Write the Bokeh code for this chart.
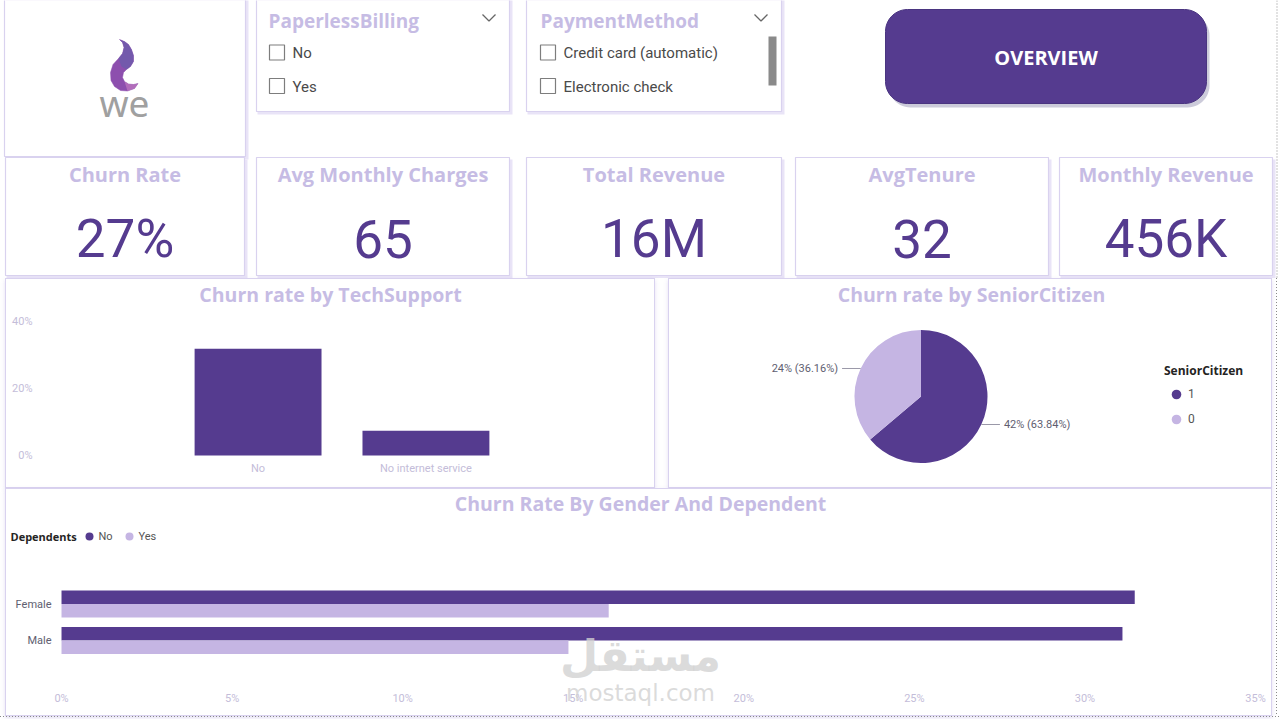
import numpy as np
from bokeh.plotting import figure
from bokeh.models import (Range1d, FactorRange, FixedTicker, NumeralTickFormatter,
                          Label, Legend, LegendItem, Spacer)
from bokeh.layouts import column, row
from bokeh.embed import file_html
from bokeh.resources import INLINE
from bokeh.core.properties import value

# ---------------- data ----------------
slicer_titles = ["PaperlessBilling", "PaymentMethod"]
paperless_options = ["No", "Yes"]
payment_options = ["Credit card (automatic)", "Electronic check"]
kpi_titles = ["Churn Rate", "Avg Monthly Charges", "Total Revenue", "AvgTenure", "Monthly Revenue"]
kpi_values = ["27%", "65", "16M", "32", "456K"]

tech_support = ["No", "No internet service"]
tech_churn = [0.319, 0.074]
tech_ticks = [0.0, 0.2, 0.4]

senior_groups = ["1", "0"]
senior_churn = [0.4168, 0.2361]

genders = ["Female", "Male"]
dependents = ["No", "Yes"]
churn_dep_no = [0.3146, 0.3110]
churn_dep_yes = [0.1604, 0.1486]
gender_ticks = [0.0, 0.05, 0.10, 0.15, 0.20, 0.25, 0.30, 0.35]

# ---------------- style ----------------
DARK = "#553b8f"
LIGHT = "#c5b5e3"
TITLE_C = "#c6bce4"
BORDER_C = "#d9d2ef"
TICK_C = "#c4bdd9"
TXT_C = "#605e70"
BOLD_FONT = "Open Sans"
NUM_FONT = "Roboto"
PANEL_STYLE = {"background-color": "#ffffff",
               "box-shadow": "inset 0 0 0 1px #d9d2ef, 0 2px 4px rgba(150,130,210,0.25)"}
VDOTS = {"background-image": "linear-gradient(#8a8a8a 50%, rgba(0,0,0,0) 50%)",
         "background-size": "1px 3px", "background-repeat": "repeat-y",
         "background-position": "4px 0"}
HDOTS = {"background-image": "linear-gradient(to right, #8a8a8a 50%, rgba(0,0,0,0) 50%)",
         "background-size": "3px 1px", "background-repeat": "repeat-x",
         "background-position": "0 0"}


def rounded_rect(x0, y0, x1, y1, r, n=14):
    xs, ys = [], []
    corners = [(x1 - r, y0 + r, -90, 0), (x1 - r, y1 - r, 0, 90),
               (x0 + r, y1 - r, 90, 180), (x0 + r, y0 + r, 180, 270)]
    for cx, cy, a0, a1 in corners:
        for a in np.linspace(np.radians(a0), np.radians(a1), n):
            xs.append(cx + r * np.cos(a))
            ys.append(cy + r * np.sin(a))
    return xs, ys


# ================= top section (pixel canvas) =================
top = figure(width=1280, height=278, x_range=Range1d(0, 1280), y_range=Range1d(278, 0),
             x_axis_type=None, y_axis_type=None, min_border=0, toolbar_location=None,
             title=None, output_backend="svg", outline_line_color=None,
             background_fill_color="white", border_fill_color="white")
top.grid.visible = False

panels = [(4, 245, -5, 156), (256, 509, -5, 111), (526, 781, -5, 111),
          (5, 244, 157, 275), (256, 509, 157, 275), (526, 781, 157, 275),
          (795, 1048, 157, 275), (1059, 1272, 157, 275)]
pl, pr, pt, pb = zip(*panels)
top.quad(left=[v + 1 for v in pl], right=[v + 3 for v in pr], top=[v + 2 for v in pt],
         bottom=[v + 3 for v in pb], fill_color="#e9e4f7", line_color=None)
top.quad(left=list(pl), right=list(pr), top=list(pt), bottom=list(pb),
         fill_color="white", line_color=BORDER_C, line_width=1.2)

# logo: swirl + "we"
swirl_x = [119, 124, 128, 131, 133, 133, 130, 126, 123, 122, 124, 128, 133, 137.5,
           134, 127, 120, 114, 110.5, 110, 112.5, 118, 122, 123.5, 122]
swirl_y = [39, 41, 44, 49, 55, 61, 66, 69, 72, 77, 81, 83.5, 84, 83,
           88, 90.5, 90, 86, 80, 72, 64, 58, 53, 47, 42]
top.patch(x=swirl_x, y=swirl_y, fill_color="#8d4fae", line_color="#8d4fae", line_width=0.5)
top.patch(x=[119, 124, 128, 131, 133, 133, 130, 126, 121, 118, 122, 123.5, 122],
          y=[39, 41, 44, 49, 55, 61, 66, 69, 66, 58, 53, 47, 42],
          fill_color="#6f5aab", fill_alpha=0.85, line_color=None)
top.patch(x=[124, 128, 133, 137.5, 134, 127], y=[81, 83.5, 84, 83, 88, 90.5],
          fill_color="#c27bc0", fill_alpha=0.7, line_color=None)
top.text(x=[124], y=[102], text=["we"], text_font=value("Noto Sans"),
         text_font_size="37px", text_color="#a0a0a0", text_align="center",
         text_baseline="middle")

# slicers
top.text(x=[268, 540], y=[20, 20], text=slicer_titles, text_font=value(BOLD_FONT),
         text_font_style="bold", text_font_size="19px", text_color=TITLE_C,
         text_align="left", text_baseline="middle")
top.multi_line(xs=[[482, 488.5, 495], [754, 760.5, 767]], ys=[[14, 20.5, 14], [14, 20.5, 14]],
               line_color="#666666", line_width=1.3)
top.rect(x=[276.5, 276.5, 547.5, 547.5], y=[52, 85.5, 52, 85.5], width=15, height=15,
         fill_color="white", line_color="#7d7d7d", line_width=1.2)
top.text(x=[292, 292, 563, 563], y=[52, 86, 52, 86],
         text=paperless_options + payment_options, text_font=value(NUM_FONT),
         text_font_size="15px", text_color="#4a4a4a", text_align="left",
         text_baseline="middle")
top.quad(left=[768], right=[776], top=[36], bottom=[85], fill_color="#8a8a8a", line_color=None)

# overview button
bx, by = rounded_rect(885, 9, 1206, 103, 22)
top.patch(x=[v + 3 for v in bx], y=[v + 4 for v in by], fill_color="#9a98b5",
          fill_alpha=0.5, line_color=None)
top.patch(x=bx, y=by, fill_color=DARK, line_color="#4a3580", line_width=1)
top.text(x=[1045.5], y=[57], text=["OVERVIEW"], text_font=value(BOLD_FONT),
         text_font_style="bold", text_font_size="20px", text_color="white",
         text_align="center", text_baseline="middle")

# KPI cards
kpi_cx = [(l + r) / 2 for (l, r, t, b) in panels[3:]]
top.text(x=kpi_cx, y=[174] * 5, text=kpi_titles, text_font=value(BOLD_FONT),
         text_font_style="bold", text_font_size="20px", text_color=TITLE_C,
         text_align="center", text_baseline="middle")
top.text(x=kpi_cx, y=[238] * 5, text=kpi_values, text_font=value(NUM_FONT),
         text_font_size="53px", text_color=DARK, text_align="center",
         text_baseline="middle")
top.line(x=[1276.5, 1276.5], y=[0, 278], line_color="#8a8a8a", line_dash="1 2", line_width=1)

# ================= TechSupport bar chart =================
# frame: abs y 280..464, abs x 41..642
bar = figure(width=650, height=210, title=None,
             x_range=FactorRange(factors=tech_support, range_padding=0.79,
                                 range_padding_units="absolute"),
             y_range=Range1d(-0.0269, 0.5224), min_border_left=36, min_border_right=13,
             min_border_top=2, min_border_bottom=24, toolbar_location=None,
             output_backend="svg", outline_line_color=None,
             background_fill_alpha=0, border_fill_alpha=0, styles=PANEL_STYLE)
bar.vbar(x=tech_support, top=tech_churn, bottom=0, width=0.756, fill_color=DARK,
         line_color=None)
bar.grid.visible = False
bar.yaxis.ticker = FixedTicker(ticks=tech_ticks)
bar.yaxis.formatter = NumeralTickFormatter(format="0%")
for ax in (bar.xaxis[0], bar.yaxis[0]):
    ax.axis_line_color = None
    ax.major_tick_line_color = None
    ax.minor_tick_line_color = None
    ax.major_tick_out = 0
    ax.major_tick_in = 0
    ax.major_label_text_color = TICK_C
    ax.major_label_text_font = NUM_FONT
    ax.major_label_text_font_size = "11px"
bar.yaxis.major_label_standoff = 9
bar.xaxis.major_label_standoff = -3
bar.add_layout(Label(x=289, y=170, x_units="screen", y_units="screen",
                     text="Churn rate by TechSupport", text_align="center",
                     text_baseline="middle", text_font=BOLD_FONT, text_font_style="bold",
                     text_font_size="19.5px", text_color=TITLE_C))

# ================= SeniorCitizen pie =================
# frame: abs y 280..464, abs x 668..1272 ; pie centre abs (920.5, 396)
R_PX = 66.5
pie = figure(width=604, height=210, title=None,
             x_range=Range1d(-252.5 / R_PX, 351.5 / R_PX),
             y_range=Range1d(-68 / R_PX, 116 / R_PX), x_axis_type=None, y_axis_type=None,
             min_border_left=0, min_border_right=0, min_border_top=2, min_border_bottom=24,
             toolbar_location=None, output_backend="svg",
             outline_line_color=None, background_fill_alpha=0, border_fill_alpha=0,
             styles=PANEL_STYLE)
pie.grid.visible = False
shares = np.array(senior_churn) / np.sum(senior_churn)
cum = np.concatenate([[0.0], np.cumsum(shares)])
starts = np.pi / 2 - 2 * np.pi * cum[:-1]
ends = np.pi / 2 - 2 * np.pi * cum[1:]
mids = (starts + ends) / 2
pie_colors = [DARK, LIGHT]
pie.wedge(x=0, y=0, radius=1, start_angle=starts, end_angle=ends, direction="clock",
          fill_color=pie_colors, line_color=None)
ex, ey = np.cos(mids), np.sin(mids)
side = np.sign(ex)
pie.segment(x0=ex, y0=ey, x1=ex + side * 0.28, y1=ey, line_color="#9a98a8", line_width=1)
pie_labels = [f"{v * 100:.0f}% ({s * 100:.2f}%)" for v, s in zip(senior_churn, shares)]
pie.text(x=ex + side * 0.34, y=ey, text=pie_labels,
         text_align=["left" if s > 0 else "right" for s in side],
         text_baseline="middle", text_font=value(NUM_FONT), text_font_size="11px",
         text_color=TXT_C)
pie.add_layout(Label(x=303, y=170, x_units="screen", y_units="screen",
                     text="Churn rate by SeniorCitizen", text_align="center",
                     text_baseline="middle", text_font=BOLD_FONT, text_font_style="bold",
                     text_font_size="19.5px", text_color=TITLE_C))
# legend-only renderers (no visible points: NaN coordinates)
leg_r = [pie.scatter(x=[np.nan], y=[np.nan], marker="circle", fill_color=c, line_color=None)
         for c in pie_colors]
pie_legend = Legend(items=[LegendItem(label=g, renderers=[r]) for g, r in zip(senior_groups, leg_r)],
                    location=(496, 33), title="SeniorCitizen", title_text_font=BOLD_FONT,
                    title_text_font_style="bold", title_text_font_size="12px",
                    title_text_color="#252423", title_standoff=3, padding=0, margin=0,
                    spacing=1, glyph_width=24, glyph_height=24, label_standoff=0,
                    label_height=20, label_text_font=NUM_FONT, label_text_font_size="12px",
                    label_text_color="#555555", border_line_color=None,
                    background_fill_alpha=0)
pie.add_layout(pie_legend)

# ================= Gender / Dependents hbar =================
# frame: abs x 8..1255, abs y 490..706 ; 0% at abs x 61
ypos = np.arange(len(genders))[::-1].astype(float)
bot = figure(width=1267, height=228, title=None, x_range=Range1d(-0.01554, 0.35),
             y_range=Range1d(-1.808, 4.110), y_axis_type=None,
             min_border_left=3, min_border_right=17, min_border_top=2, min_border_bottom=10,
             toolbar_location=None, output_backend="svg", outline_line_color=None,
             background_fill_alpha=0, border_fill_alpha=0, styles=PANEL_STYLE)
bot.grid.visible = False
r_no = bot.hbar(y=ypos + 0.185, left=0, right=churn_dep_no, height=0.37,
                fill_color=DARK, line_color=None)
r_yes = bot.hbar(y=ypos - 0.185, left=0, right=churn_dep_yes, height=0.37,
                 fill_color=LIGHT, line_color=None)
bot.text(x=[0.0] * len(genders), y=ypos, text=genders, x_offset=-10, text_align="right",
         text_baseline="middle", text_font=value(NUM_FONT), text_font_size="11px",
         text_color=TXT_C)
bot.xaxis.ticker = FixedTicker(ticks=gender_ticks)
bot.xaxis.formatter = NumeralTickFormatter(format="0%")
xa = bot.xaxis[0]
xa.axis_line_color = None
xa.major_tick_line_color = None
xa.minor_tick_line_color = None
xa.major_tick_out = 0
xa.major_tick_in = 0
xa.major_label_text_font = NUM_FONT
xa.major_label_text_font_size = "11px"
xa.major_label_text_color = TICK_C
xa.major_label_standoff = -15
bot.add_layout(Label(x=632, y=203, x_units="screen", y_units="screen",
                     text="Churn Rate By Gender And Dependent", text_align="center",
                     text_baseline="middle", text_font=BOLD_FONT, text_font_style="bold",
                     text_font_size="19.5px", text_color=TITLE_C))
bot.add_layout(Label(x=2, y=170, x_units="screen", y_units="screen", text="Dependents",
                     text_align="left", text_baseline="middle", text_font=BOLD_FONT,
                     text_font_style="bold", text_font_size="11px", text_color="#252423"))
leg_b = [bot.scatter(x=[np.nan], y=[np.nan], marker="circle", fill_color=c, line_color=None)
         for c in (DARK, LIGHT)]
bot_legend = Legend(items=[LegendItem(label=d, renderers=[r]) for d, r in zip(dependents, leg_b)],
                    location=(70.5, 160), orientation="horizontal", padding=0, margin=0,
                    spacing=0, glyph_width=20, glyph_height=20, label_standoff=0,
                    label_height=20, label_text_font=NUM_FONT, label_text_font_size="11px",
                    label_text_color="#555555", border_line_color=None,
                    background_fill_alpha=0)
bot.add_layout(bot_legend)
# watermark of the source image
bot.add_layout(Label(x=632, y=51, x_units="screen", y_units="screen", text="مستقل",
                     text_align="center", text_baseline="middle", text_font="DejaVu Sans",
                     text_font_style="bold", text_font_size="44px", text_color="#d2d2d2",
                     text_alpha=0.8))
bot.add_layout(Label(x=632, y=14, x_units="screen", y_units="screen", text="mostaql.com",
                     text_align="center", text_baseline="middle", text_font="DejaVu Sans",
                     text_font_size="23px", text_color="#d2d2d2", text_alpha=0.8))

layout = column(
    top,
    row(Spacer(width=5, height=210), bar, Spacer(width=13, height=210), pie,
        Spacer(width=8, height=210, styles=VDOTS)),
    row(Spacer(width=5, height=228), bot, Spacer(width=8, height=228, styles=VDOTS)),
    Spacer(width=1280, height=3, styles=HDOTS),
)

open("out.html", "w").write(file_html(layout, INLINE))
